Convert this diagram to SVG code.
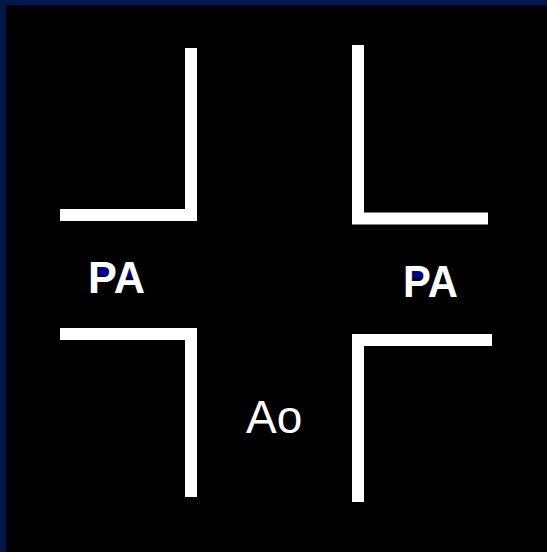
<svg xmlns="http://www.w3.org/2000/svg" width="547" height="552" viewBox="0 0 547 552">
  <style>
    .wall { fill: none; stroke: #ffffff; stroke-width: 12; stroke-linejoin: miter; stroke-linecap: butt; }
    .lbl { fill: #ffffff; font-family: "Liberation Sans", Arial, sans-serif; }
    .pa { font-size: 44px; font-weight: bold; }
    .ao { font-size: 46px; }
    .ctr { fill: #000090; }
  </style>
  <rect x="0" y="0" width="547" height="552" fill="#000000"/>
  <rect x="0" y="0" width="547" height="5" fill="#001848"/>
  <rect x="0" y="0" width="6" height="552" fill="#001848"/>
  <g id="connectors">
    <polyline id="wall-ul" class="wall" points="191,48 191,215 60,215"/>
    <polyline id="wall-ll" class="wall" points="60,334 191,334 191,497"/>
    <polyline id="wall-ur" class="wall" points="358,45 358,218.5 488,218.5"/>
    <polyline id="wall-lr" class="wall" points="492,340 358,340 358,502"/>
  </g>
  <g id="label-pa-left">
    <rect class="ctr" x="98" y="262" width="10" height="13"/>
    <rect class="ctr" x="125" y="266" width="8" height="11"/>
    <text class="lbl pa" x="88" y="293" textLength="57" lengthAdjust="spacingAndGlyphs">PA</text>
  </g>
  <g id="label-pa-right">
    <rect class="ctr" x="412" y="265" width="10" height="13"/>
    <text class="lbl pa" x="403" y="297" textLength="55" lengthAdjust="spacingAndGlyphs">PA</text>
  </g>
  <g id="label-ao">
    <text class="lbl ao" x="246" y="433">Ao</text>
  </g>
</svg>
